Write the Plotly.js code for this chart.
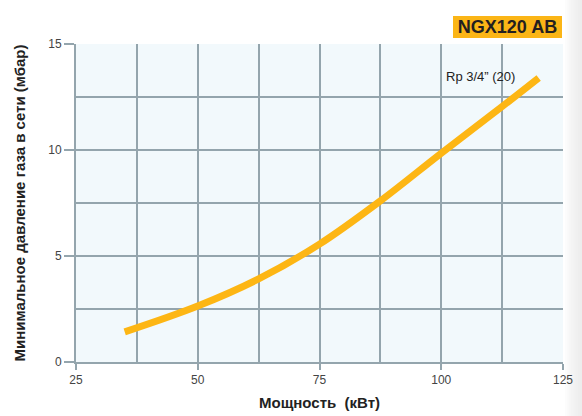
<!DOCTYPE html>
<html>
<head>
<meta charset="utf-8">
<script src="https://cdn.plot.ly/plotly-3.0.1.min.js"></script>
<style>
  html, body { margin: 0; padding: 0; background: #ffffff; }
  #chart { width: 582px; height: 416px; }
</style>
</head>
<body>
<div id="chart"></div>
<script>
// Data
const powerKW = [35, 50, 62.5, 75, 87.5, 100, 112.5, 120];
const pressureMbar = [1.42, 2.64, 3.92, 5.56, 7.6, 9.85, 12.05, 13.4];
const seriesLabel = 'Rp 3/4\u201D (20)';
const modelLabel = 'NGX120 AB';
const xTickVals = [25, 50, 75, 100, 125];
const yTickVals = [0, 5, 10, 15];

const gridColor = '#94a5ad';
const font = 'Liberation Sans, Arial, sans-serif';

const trace = {
  x: powerKW,
  y: pressureMbar,
  type: 'scatter',
  mode: 'lines',
  line: { color: '#fdb614', width: 7, shape: 'spline', smoothing: 1 },
  hoverinfo: 'skip',
  showlegend: false
};

const shapes = [];
// subtle gray gradient on the right edge of the page
for (let i = 0; i < 8; i++) {
  shapes.push({
    type: 'rect', xref: 'paper', yref: 'paper', layer: 'below',
    x0: 1.004 + i * 0.0045, x1: 1.04,
    y0: -0.17, y1: 1.14,
    fillcolor: '#e6e6e6', opacity: 0.12, line: { width: 0 }
  });
}

const layout = {
  width: 582,
  height: 416,
  margin: { l: 76, r: 19, t: 44, b: 54 },
  paper_bgcolor: '#ffffff',
  plot_bgcolor: '#f2f9fc',
  font: { family: font, color: '#444' },
  xaxis: {
    range: [25, 125],
    tickvals: xTickVals,
    ticks: 'outside', ticklen: 6, tickwidth: 2, tickcolor: gridColor,
    showline: true, linecolor: gridColor, linewidth: 2, mirror: false,
    showgrid: true, gridcolor: gridColor, gridwidth: 2,
    minor: { dtick: 12.5, showgrid: true, gridcolor: gridColor, gridwidth: 2, ticks: '' },
    zeroline: false,
    tickfont: { family: font, size: 12, color: '#444' },
    title: { text: 'Мощность  (кВт)', standoff: 11,
             font: { family: font, size: 15, color: '#222', weight: 'bold' } },
    fixedrange: true
  },
  yaxis: {
    range: [0, 15],
    tickvals: yTickVals,
    ticks: 'outside', ticklen: 10, tickwidth: 2, tickcolor: gridColor,
    showline: true, linecolor: gridColor, linewidth: 2,
    showgrid: true, gridcolor: gridColor, gridwidth: 2,
    minor: { dtick: 2.5, showgrid: true, gridcolor: gridColor, gridwidth: 2, ticks: '' },
    zeroline: false,
    tickfont: { family: font, size: 12, color: '#444' },
    title: { text: 'Минимальное давление газа в сети (мбар)', standoff: 19,
             font: { family: font, size: 15, color: '#222', weight: 'bold' } },
    fixedrange: true
  },
  shapes: shapes,
  annotations: [
    {
      text: seriesLabel,
      x: 100.6, y: 13.45, xref: 'x', yref: 'y',
      xanchor: 'left', yanchor: 'middle', showarrow: false,
      font: { family: font, size: 13, color: '#222', weight: 500 }
    },
    {
      text: '<b>' + modelLabel + '</b>',
      xref: 'paper', yref: 'paper',
      x: 0.998, y: 1.088, xanchor: 'right', yanchor: 'top',
      showarrow: false,
      bgcolor: '#fbb516', borderpad: 0, borderwidth: 0,
      width: 109, height: 22,
      font: { family: font, size: 18, color: '#231f20' }
    }
  ]
};

Plotly.newPlot('chart', [trace], layout, { displayModeBar: false, staticPlot: true });
</script>
</body>
</html>
